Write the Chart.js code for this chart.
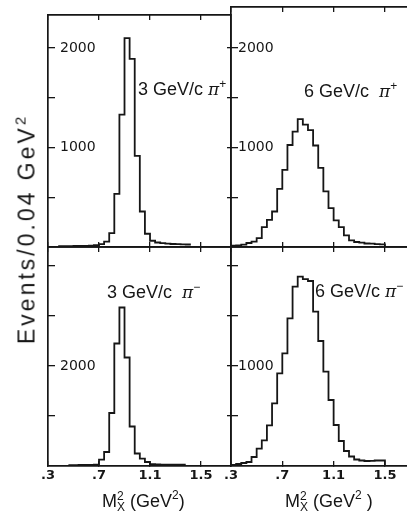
<!DOCTYPE html>
<html>
<head>
<meta charset="utf-8">
<script src="https://cdn.jsdelivr.net/npm/chart.js@4.4.1/dist/chart.umd.min.js"></script>
<style>
  html, body { margin: 0; padding: 0; background: #fff; }
  #wrap { position: relative; width: 407px; height: 521px; overflow: hidden;
          font-family: "Liberation Sans", Arial, sans-serif; color: #161616; }
  canvas { position: absolute; left: 0; top: 0; }
  .lbl { position: absolute; white-space: nowrap; font-size: 18px; line-height: 1; }
  .lbl i { font-family: "DejaVu Serif", serif; font-size: 17px; }
  .lbl .up { position: relative; top: -7px; font-size: 12px; }
  .xt { position: absolute; white-space: nowrap; font-size: 18px; line-height: 1; }
  .ms { display: inline-block; vertical-align: -4px; font-size: 12px; line-height: 11px; text-align: left; }
  .xt .up { position: relative; top: -8px; font-size: 12px; }
  #ytitle { position: absolute; left: 27px; top: 229px; white-space: nowrap; font-size: 23px;
            line-height: 1; letter-spacing: 3px; transform: translate(-50%, -50%) rotate(-90deg); }
  #ytitle .up { position: relative; top: -9px; font-size: 15px; }
</style>
</head>
<body>
<div id="wrap">
  <canvas id="pip3" width="407" height="521"></canvas>
  <canvas id="pip6" width="407" height="521"></canvas>
  <canvas id="pim3" width="407" height="521"></canvas>
  <canvas id="pim6" width="407" height="521"></canvas>

  <div class="lbl" style="left:138px; top:80px">3 GeV/c <i>π</i><span class="up">+</span></div>
  <div class="lbl" style="left:304px; top:82px">6 GeV/c&nbsp; <i>π</i><span class="up">+</span></div>
  <div class="lbl" style="left:107px; top:283px">3 GeV/c&nbsp; <i>π</i><span class="up">−</span></div>
  <div class="lbl" style="left:315px; top:282px">6 GeV/c <i>π</i><span class="up">−</span></div>

  <div class="xt" style="left:102px; top:491px">M<span class="ms">2<br>X</span> (GeV<span class="up">2</span>)</div>
  <div class="xt" style="left:285px; top:491px">M<span class="ms">2<br>X</span> (GeV<span class="up">2</span> )</div>

  <div id="ytitle">Events/0.04 GeV<span class="up">2</span></div>
</div>
<script>
const binWidth = 0.04;
const xTickValues = [0.3, 0.7, 1.1, 1.5];
const xTickLabels = ['.3', '.7', '1.1', '1.5'];

// 3 GeV/c pi+ (top left)
const pip3Start = 0.38;
const pip3Counts = [8, 8, 9, 10, 11, 12, 14, 18, 28, 55, 140, 535, 1330, 2100, 1890, 915,
                    357, 133, 63, 45, 38, 33, 30, 28, 26, 25];

// 6 GeV/c pi+ (top right)
const pip6Start = 0.30;
const pip6Counts = [13, 17, 23, 40, 55, 90, 200, 273, 357, 585, 775, 1025, 1160, 1285, 1230,
                    1175, 1020, 795, 560, 390, 267, 200, 117, 67, 50, 43, 35, 33, 28, 27];

// 3 GeV/c pi- (bottom left)
const pim3Start = 0.46;
const pim3Counts = [15, 18, 20, 22, 24, 28, 127, 280, 1060, 2450, 3170, 2170, 790, 250, 147,
                    80, 35, 30, 28, 27, 26, 25, 25];

// 6 GeV/c pi- (bottom right)
const pim6Start = 0.30;
const pim6Counts = [10, 20, 30, 40, 90, 173, 256, 406, 627, 927, 1127, 1477, 1793, 1893, 1868,
                    1850, 1543, 1250, 943, 660, 410, 250, 150, 95, 65, 55, 50, 52, 55, 55];

const topYTicks = [500, 1000, 1500, 2000];
const topYLabels = [1000, 2000];
const pim3YTicks = [1000, 2000, 3000, 4000];
const pim3YLabels = [2000];
const pim6YTicks = [500, 1000, 1500, 2000];
const pim6YLabels = [1000];

const ink = '#161616';
const W = 407, H = 521;
const xLabelRoom = 30;   // height kept for the bottom tick labels

function histPoints(start, counts, dropToZero) {
  const pts = counts.map((c, i) => ({ x: start + i * binWidth, y: c }));
  const end = start + counts.length * binWidth;
  pts.push({ x: end, y: counts[counts.length - 1] });
  if (dropToZero) pts.push({ x: end, y: 0 });
  return pts;
}

// fixed axis sizes and no label padding, so the chart area is exactly the padded box
function edgeAxis(position, min, max, values, tickLen, showBorder, ticks, room) {
  return {
    type: 'linear', position, min, max,
    afterFit: axis => {
      if (axis.isHorizontal()) axis.height = room || 0; else axis.width = room || 0;
      axis.paddingTop = axis.paddingBottom = axis.paddingLeft = axis.paddingRight = 0;
    },
    afterBuildTicks: axis => { axis.ticks = values.map(v => ({ value: v })); },
    grid: { display: tickLen > 0, drawOnChartArea: false, drawTicks: true, tickLength: -tickLen,
            color: ink, lineWidth: 1.3 },
    border: { display: showBorder, color: ink, width: 1.7 },
    ticks: ticks || { display: false }
  };
}

function panel(id, p) {
  const xLabels = p.xLabels ? {
    autoSkip: false, maxRotation: 0, minRotation: 0, padding: 7, color: ink,
    font: { family: 'DejaVu Sans', size: 13, weight: 'bold' },
    callback: v => xTickLabels[xTickValues.indexOf(v)]
  } : null;
  const yLabels = {
    mirror: true, padding: p.labelPad, color: ink,
    font: { family: 'DejaVu Sans', size: 14 },
    callback: v => p.yLabels.includes(v) ? String(v) : ''
  };
  const bottomRoom = p.xLabels ? xLabelRoom : 0;
  return new Chart(document.getElementById(id), {
    type: 'line',
    data: {
      datasets: [{
        data: p.points, stepped: true, borderColor: ink, borderWidth: 1.8,
        pointRadius: 0, fill: false
      }]
    },
    options: {
      responsive: false, animation: false, devicePixelRatio: 1,
      layout: { padding: { left: p.box.l, top: p.box.t, right: W - p.box.r, bottom: H - p.box.b - bottomRoom } },
      plugins: { legend: { display: false }, tooltip: { enabled: false } },
      scales: {
        x: edgeAxis('bottom', 0.3, p.xMax, xTickValues, 5, true, xLabels, bottomRoom),
        xTop: edgeAxis('top', 0.3, p.xMax, xTickValues, 5, true, null),
        y: edgeAxis('left', 0, p.yMax, p.yTicks, 7, true, yLabels),
        yRight: edgeAxis('right', 0, p.yMax, p.yTicks, p.rightSide ? 4 : 0, p.rightSide, null)
      }
    }
  });
}

panel('pip3', {
  box: { l: 48, t: 15, r: 231, b: 247 }, xMax: 1.735, yMax: 2332,
  points: histPoints(pip3Start, pip3Counts, false),
  yTicks: topYTicks, yLabels: topYLabels, labelPad: 12, rightSide: true, xLabels: false
});
panel('pip6', {
  box: { l: 231, t: 7, r: 407, b: 247 }, xMax: 1.672, yMax: 2412,
  points: histPoints(pip6Start, pip6Counts, true),
  yTicks: topYTicks, yLabels: topYLabels, labelPad: 7, rightSide: false, xLabels: false
});
panel('pim3', {
  box: { l: 48, t: 247, r: 231, b: 466 }, xMax: 1.735, yMax: 4380,
  points: histPoints(pim3Start, pim3Counts, false),
  yTicks: pim3YTicks, yLabels: pim3YLabels, labelPad: 12, rightSide: true, xLabels: true
});
panel('pim6', {
  box: { l: 231, t: 247, r: 407, b: 466 }, xMax: 1.672, yMax: 2190,
  points: histPoints(pim6Start, pim6Counts, true),
  yTicks: pim6YTicks, yLabels: pim6YLabels, labelPad: 7, rightSide: false, xLabels: true
});
</script>
</body>
</html>
